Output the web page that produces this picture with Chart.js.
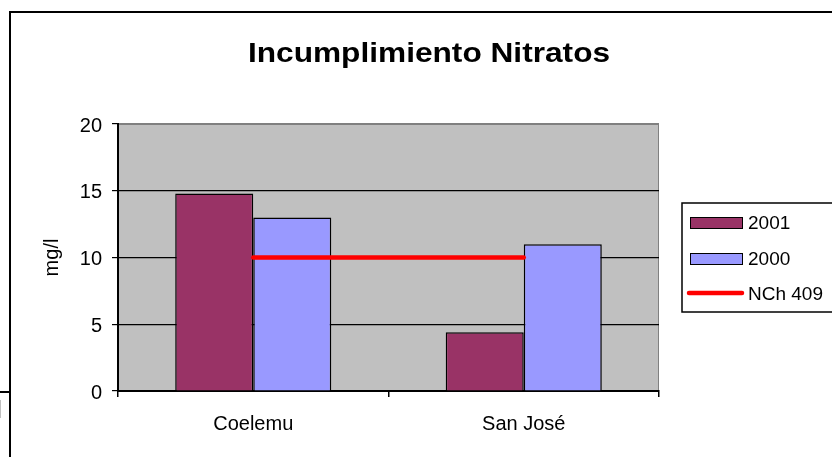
<!DOCTYPE html>
<html>
<head>
<meta charset="utf-8">
<script src="https://cdn.jsdelivr.net/npm/chart.js@4.4.1/dist/chart.umd.min.js"></script>
<style>
html, body { margin: 0; padding: 0; background: #ffffff; }
#wrap { width: 832px; height: 457px; position: relative; overflow: hidden; }
canvas { display: block; }
</style>
</head>
<body>
<div id="wrap"><canvas id="c" width="832" height="457"></canvas></div>
<script>
// ---- data ----
const categories = ['Coelemu', 'San José'];
const values2001 = [14.8, 4.4];
const values2000 = [13.0, 11.0];
const valuesNCh409 = [10, 10];
const seriesLabels = ['2001', '2000', 'NCh 409'];
const yTickValues = [0, 5, 10, 15, 20];
const chartTitle = 'Incumplimiento Nitratos';
const yAxisTitle = 'mg/l';

// ---- styles ----
const FONT = '"Liberation Sans", Arial, sans-serif';
const COL2001 = '#993366';
const COL2000 = '#9999FF';
const COLNCH = '#FF0000';

const decor = {
  id: 'decor',
  beforeDraw(chart) {
    const ctx = chart.ctx;
    const a = chart.chartArea;
    ctx.save();
    ctx.fillStyle = '#ffffff';
    ctx.fillRect(0, 0, chart.width, chart.height);
    // outer frame (extends beyond the picture on right / bottom)
    ctx.strokeStyle = '#000000';
    ctx.lineWidth = 2;
    ctx.strokeRect(10, 12, 900, 600);
    // small leftover mark at bottom left
    ctx.beginPath();
    ctx.moveTo(0, 392); ctx.lineTo(10, 392);
    ctx.stroke();
    ctx.strokeStyle = '#c0c0c0';
    ctx.lineWidth = 1;
    ctx.strokeRect(-3.5, 400.5, 4, 17);
    // plot area
    ctx.fillStyle = '#C0C0C0';
    ctx.fillRect(a.left, a.top, a.right - a.left, a.bottom - a.top);
    ctx.strokeStyle = '#808080';
    ctx.lineWidth = 1;
    ctx.strokeRect(a.left + 0.5, a.top + 0.5, a.right - a.left - 1, a.bottom - a.top);
    ctx.restore();
  },
  afterDraw(chart) {
    const ctx = chart.ctx;
    ctx.save();
    // title
    ctx.fillStyle = '#000000';
    ctx.font = 'bold 28px ' + FONT;
    ctx.textAlign = 'center';
    ctx.textBaseline = 'alphabetic';
    ctx.translate(429, 62);
    ctx.scale(1.13, 1);
    ctx.fillText(chartTitle, 0, 0);
    ctx.restore();

    // legend
    ctx.save();
    ctx.strokeStyle = '#000000';
    ctx.lineWidth = 1.5;
    ctx.strokeRect(682, 203, 300, 109);
    const ds = chart.data.datasets;
    const rows = [223, 259, 294];
    ctx.font = '19px ' + FONT;
    ctx.textAlign = 'left';
    ctx.textBaseline = 'middle';
    ds.forEach((d, i) => {
      const y = rows[i];
      if (d.type === 'line') {
        ctx.strokeStyle = d.borderColor;
        ctx.lineWidth = 4.5;
        ctx.lineCap = 'round';
        ctx.beginPath();
        ctx.moveTo(689, y - 1); ctx.lineTo(742, y - 1);
        ctx.stroke();
      } else {
        ctx.fillStyle = d.backgroundColor;
        ctx.fillRect(690, y - 6, 52, 11);
        ctx.strokeStyle = '#000000';
        ctx.lineWidth = 1;
        ctx.strokeRect(690.5, y - 5.5, 52, 11);
      }
      ctx.fillStyle = '#000000';
      ctx.fillText(d.label, 748, y + 1);
    });
    ctx.restore();
  }
};

new Chart(document.getElementById('c'), {
  type: 'bar',
  data: {
    labels: categories,
    datasets: [
      { label: seriesLabels[0], data: values2001, backgroundColor: COL2001, borderColor: '#000000', borderWidth: 1.5, order: 1 },
      { label: seriesLabels[1], data: values2000, backgroundColor: COL2000, borderColor: '#000000', borderWidth: 1.5, order: 1 },
      { type: 'line', label: seriesLabels[2], data: valuesNCh409, borderColor: COLNCH, backgroundColor: COLNCH,
        borderWidth: 4.5, borderCapStyle: 'round', pointRadius: 0, pointHoverRadius: 0, fill: false, order: 0 }
    ]
  },
  options: {
    responsive: false,
    devicePixelRatio: 1,
    animation: false,
    events: [],
    datasets: { bar: { categoryPercentage: 0.577, barPercentage: 1.0 } },
    layout: { padding: { left: 0, top: 124, right: 173, bottom: 0 } },
    plugins: { legend: { display: false }, title: { display: false }, tooltip: { enabled: false } },
    scales: {
      x: {
        type: 'category',
        offset: true,
        grid: { offset: true, drawOnChartArea: false, drawTicks: true, tickLength: 6, color: '#000000', lineWidth: 1.5 },
        border: { display: true, color: '#000000', width: 2 },
        ticks: { color: '#000000', font: { family: FONT, size: 20 }, padding: 15, maxRotation: 0 },
        afterFit(s) { s.height = 66; }
      },
      y: {
        min: 0, max: 20,
        afterBuildTicks(s) { s.ticks = yTickValues.map(v => ({ value: v })); },
        grid: {
          color: c => (c.tick && c.tick.value === 20) ? '#808080' : '#000000',
          tickColor: '#000000', lineWidth: 1.2, tickLength: 6, drawTicks: true
        },
        border: { display: true, color: '#000000', width: 2 },
        ticks: { color: '#000000', font: { family: FONT, size: 20 }, padding: 10, labelOffset: 2 },
        title: { display: true, text: yAxisTitle, color: '#000000', font: { family: FONT, size: 20 }, padding: { top: 40, bottom: 0 } },
        afterFit(s) { s.width = 118; }
      }
    }
  },
  plugins: [decor]
});
</script>
</body>
</html>
